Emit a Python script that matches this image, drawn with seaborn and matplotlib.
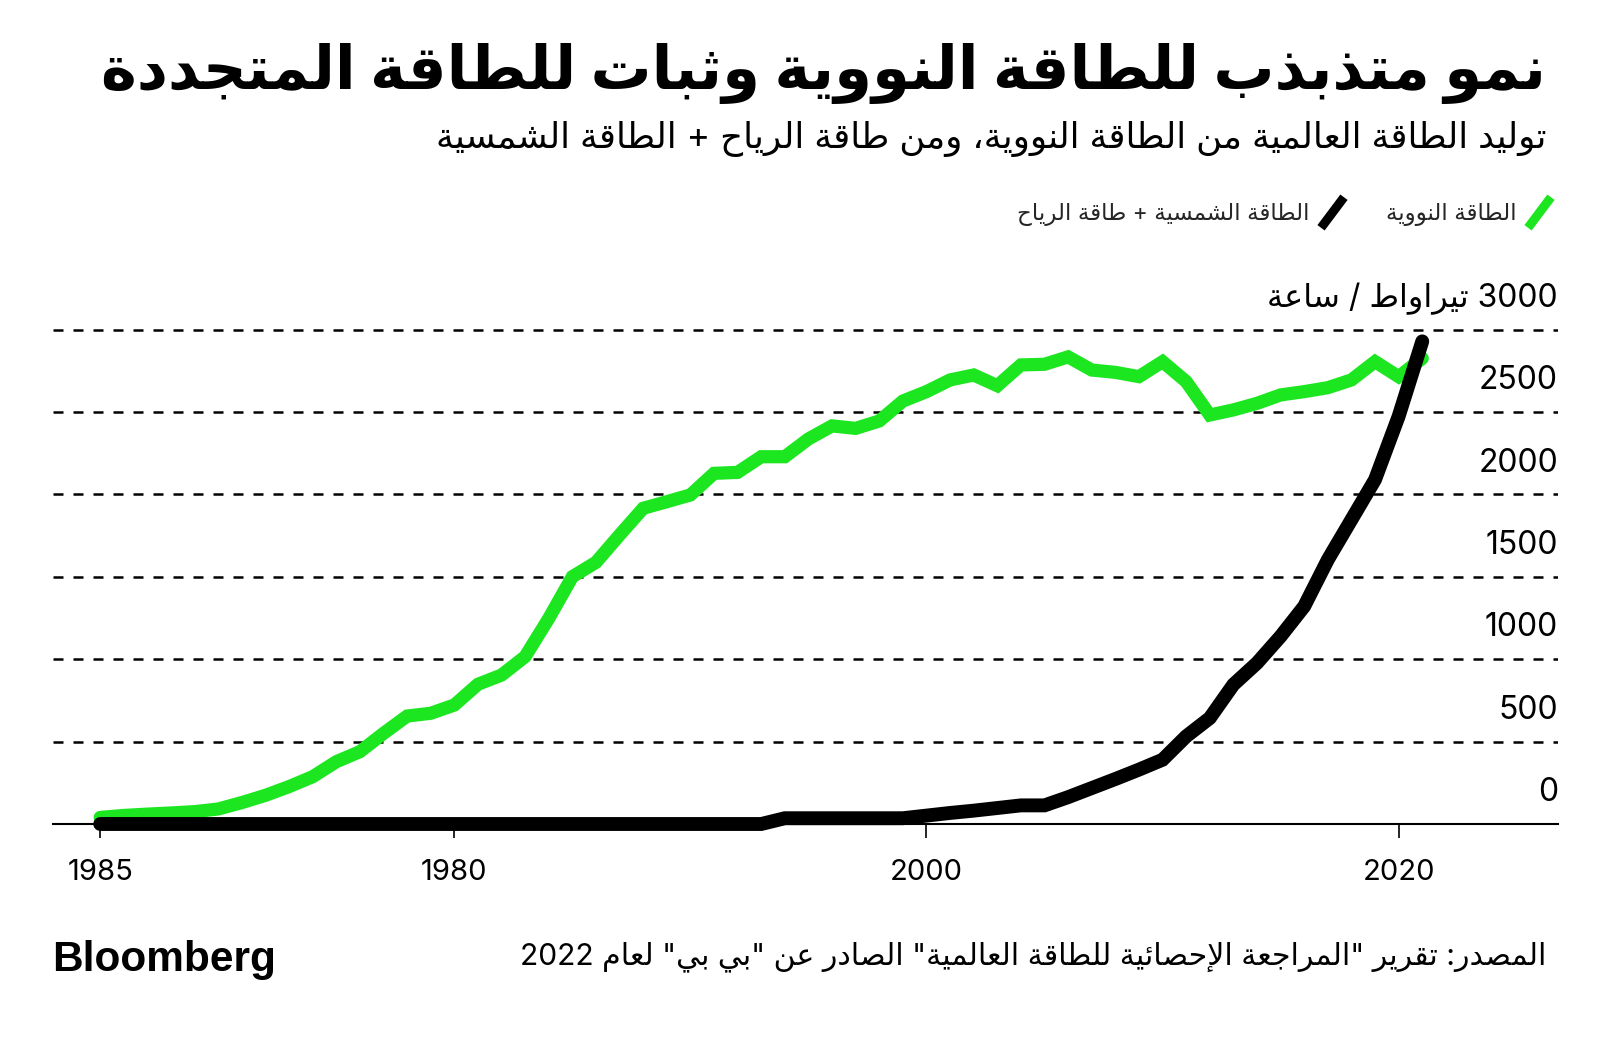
import re
import numpy as np
import pandas as pd
import seaborn as sns
import matplotlib.pyplot as plt
from matplotlib.lines import Line2D

# data (TWh)
years = list(range(1965, 2022))
nuclear = [40, 52, 60, 67, 75, 91, 130, 174, 227, 287,
           378, 439, 550, 655, 672, 722, 848, 904, 1016, 1248,
           1501, 1588, 1754, 1916, 1956, 1997, 2128, 2134, 2229, 2229,
           2337, 2416, 2401, 2446, 2567, 2624, 2695, 2725, 2660, 2786,
           2790, 2835, 2755, 2741, 2715, 2806, 2685, 2482, 2513, 2553,
           2604, 2624, 2648, 2695, 2806, 2715, 2826]
wind_solar = [0] * 29 + [35] * 6 + [51, 67, 81, 97, 113, 113, 163, 218, 273, 330,
                                    390, 532, 643, 846, 977, 1139, 1321, 1604, 1847, 2090,
                                    2474, 2929]
xtick_pos = [1965, 1980, 2000, 2020]
xtick_labels = ['1985', '1980', '2000', '2020']
ytick_vals = [0, 500, 1000, 1500, 2000, 2500, 3000]

title = 'نمو متذبذب للطاقة النووية وثبات للطاقة المتجددة'
subtitle = 'توليد الطاقة العالمية من الطاقة النووية، ومن طاقة الرياح + الطاقة الشمسية'
unit = '3000 تيراواط / ساعة'
lbl_nuc = 'الطاقة النووية'
lbl_ws = 'الطاقة الشمسية + طاقة الرياح'
source = 'المصدر: تقرير "المراجعة الإحصائية للطاقة العالمية" الصادر عن "بي بي" لعام 2022'

GREEN = '#1be61f'

# --- minimal arabic shaping + visual ordering (matplotlib has no bidi) ---
FORMS = {'ء': (0xFE80, 1), 'آ': (0xFE81, 2), 'أ': (0xFE83, 2), 'ؤ': (0xFE85, 2),
         'إ': (0xFE87, 2), 'ئ': (0xFE89, 4), 'ا': (0xFE8D, 2), 'ب': (0xFE8F, 4),
         'ة': (0xFE93, 2), 'ت': (0xFE95, 4), 'ث': (0xFE99, 4), 'ج': (0xFE9D, 4),
         'ح': (0xFEA1, 4), 'خ': (0xFEA5, 4), 'د': (0xFEA9, 2), 'ذ': (0xFEAB, 2),
         'ر': (0xFEAD, 2), 'ز': (0xFEAF, 2), 'س': (0xFEB1, 4), 'ش': (0xFEB5, 4),
         'ص': (0xFEB9, 4), 'ض': (0xFEBD, 4), 'ط': (0xFEC1, 4), 'ظ': (0xFEC5, 4),
         'ع': (0xFEC9, 4), 'غ': (0xFECD, 4), 'ف': (0xFED1, 4), 'ق': (0xFED5, 4),
         'ك': (0xFED9, 4), 'ل': (0xFEDD, 4), 'م': (0xFEE1, 4), 'ن': (0xFEE5, 4),
         'ه': (0xFEE9, 4), 'و': (0xFEED, 2), 'ى': (0xFEEF, 2), 'ي': (0xFEF1, 4)}
LAM_ALEF = {'آ': 0xFEF5, 'أ': 0xFEF7, 'إ': 0xFEF9, 'ا': 0xFEFB}


def ar(text):
    units = []
    i = 0
    while i < len(text):
        c = text[i]
        if c == 'ل' and i + 1 < len(text) and text[i + 1] in LAM_ALEF:
            units.append((LAM_ALEF[text[i + 1]], 2))
            i += 2
            continue
        units.append(FORMS.get(c, (c, 0)))
        i += 1
    out = []
    for k, (base, n) in enumerate(units):
        if n == 0:
            out.append(base)
            continue
        prev = k > 0 and units[k - 1][1] == 4
        nxt = n == 4 and k + 1 < len(units) and units[k + 1][1] in (2, 4)
        if n == 1:
            off = 0
        elif prev and nxt:
            off = 3
        elif prev:
            off = 1
        elif nxt:
            off = 2
        else:
            off = 0
        out.append(chr(base + off))
    tokens = re.findall(r'[0-9A-Za-z]+|.', ''.join(out))
    return ''.join(reversed(tokens))


df = pd.DataFrame({'year': years * 2,
                   'value': nuclear + wind_solar,
                   'series': ['nuc'] * len(years) + ['ws'] * len(years)})

sns.set_style('white')
plt.rcParams['font.family'] = ['Inter', 'DejaVu Sans']

W, H = 1600, 1038
fig = plt.figure(figsize=(16, 10.38), dpi=100)
fig.patch.set_facecolor('white')

# axes placed in pixels: x 53..1558, y=0 at 824px, 3100 at 313px
ax = fig.add_axes([53 / W, (H - 824) / H, 1505 / W, (824 - 313.2) / H])

sns.lineplot(data=df, x='year', y='value', hue='series', hue_order=['nuc', 'ws'],
             palette={'nuc': GREEN, 'ws': 'black'}, legend=False,
             estimator=None, ax=ax, clip_on=False, zorder=3)
for ln, w in zip(ax.get_lines(), [9.5, 10]):
    ln.set_linewidth(w)
    ln.set_solid_capstyle('round')
    ln.set_solid_joinstyle('miter')

ax.set_xlim(1963, 2026.75)
ax.set_ylim(0, 3100)
ax.set_xlabel('')
ax.set_ylabel('')
for s in ['left', 'right', 'top']:
    ax.spines[s].set_visible(False)
ax.spines['bottom'].set_color('black')
ax.spines['bottom'].set_linewidth(1.5)

ax.set_xticks(xtick_pos)
ax.set_xticklabels(xtick_labels)
ax.tick_params(axis='x', direction='out', length=10, width=1.2, color='black',
               pad=15, labelsize=21, labelcolor='black', bottom=True)

ax.set_yticks(ytick_vals[1:])
ax.tick_params(axis='y', length=0, labelleft=False)
ax.yaxis.grid(True, color='black', linestyle=(0, (4, 4)), linewidth=1.8)
ax.set_axisbelow(True)

for v in ytick_vals:
    txt = ar(unit) if v == 3000 else str(v)
    ax.annotate(txt, xy=(1.0, v), xycoords=('axes fraction', 'data'),
                xytext=(0, 16.5), textcoords='offset points',
                ha='right', va='baseline', fontsize=23, color='black')

# titles
renderer = fig.canvas.get_renderer()


def fit(t, width_px):
    w = t.get_window_extent(renderer).width
    t.set_fontsize(t.get_fontsize() * width_px / w)


t1 = fig.text(1546 / W, 1 - 73 / H, ar(title), ha='right', va='center',
              fontsize=40, fontweight='bold', color='black')
fit(t1, 1444)
t2 = fig.text(1546 / W, 1 - 139 / H, ar(subtitle), ha='right', va='center',
              fontsize=22, color='black')
fit(t2, 1112)
t3 = fig.text(1546 / W, 1 - 957 / H, ar(source), ha='right', va='center',
              fontsize=18, color='black')
fit(t3, 1026)
fig.text(52 / W, 1 - 960 / H, 'Bloomberg', ha='left', va='center',
         fontsize=30.5, fontweight='bold', family='Liberation Sans', color='black')

# legend: slash keys, right-to-left
slash = [(-0.75, -1), (0.75, 1)]
h_ws = Line2D([], [], ls='none', marker=slash, markersize=22, mew=6.5,
              color='black', mec='black')
h_nuc = Line2D([], [], ls='none', marker=slash, markersize=22, mew=6.5,
               color=GREEN, mec=GREEN)
fig.legend(handles=[h_ws, h_nuc], labels=[ar(lbl_ws), ar(lbl_nuc)],
           loc='center right', bbox_to_anchor=(1552 / W, 1 - 215 / H), ncol=2,
           frameon=False, markerfirst=False, handlelength=1.1, handletextpad=0.45,
           columnspacing=1.8, borderaxespad=0, borderpad=0, fontsize=16.5)

fig.savefig('out.png', dpi=100, facecolor='white')
